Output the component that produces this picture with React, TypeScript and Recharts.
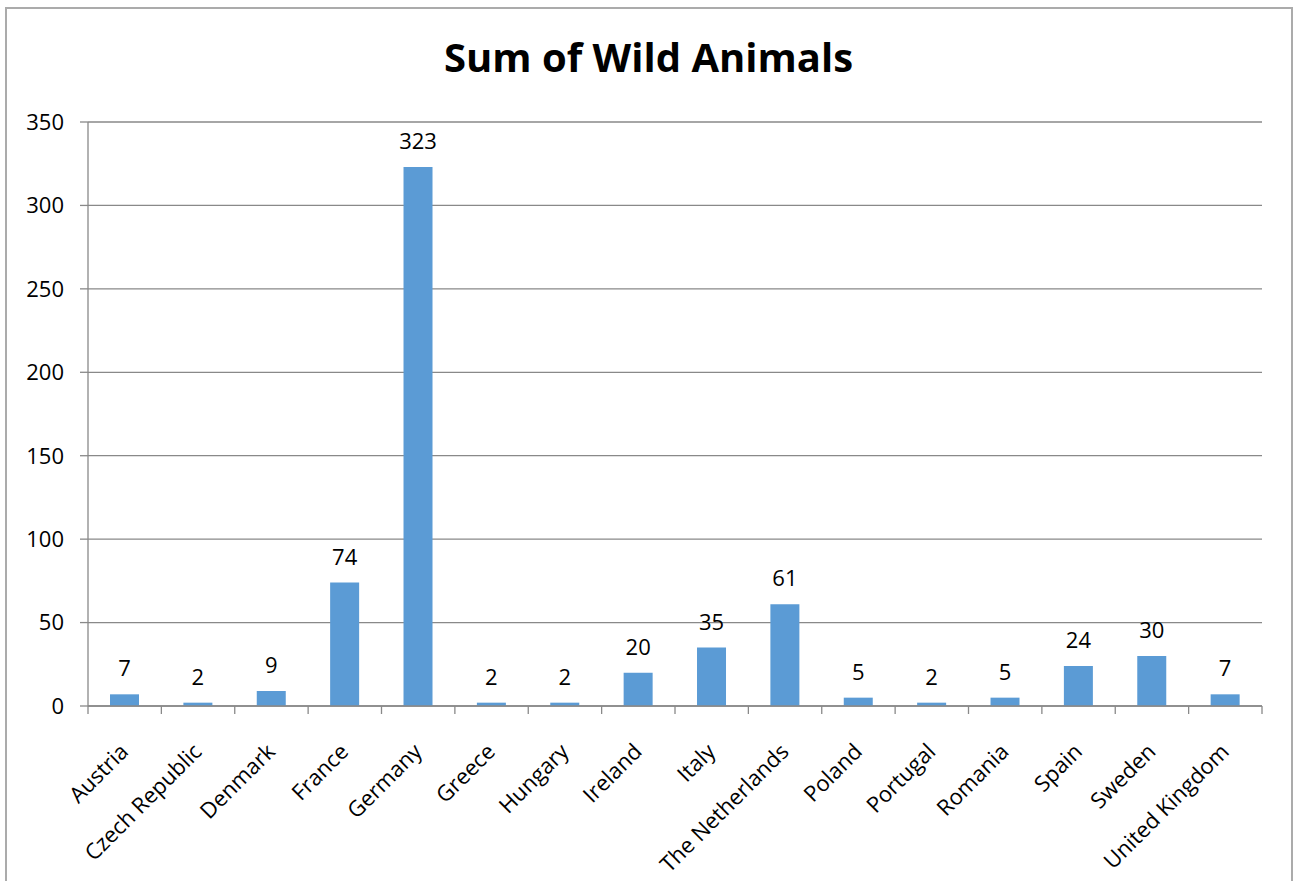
import { BarChart, Bar, XAxis, YAxis, CartesianGrid, LabelList } from 'recharts'

const COUNTRIES = [
  'Austria', 'Czech Republic', 'Denmark', 'France', 'Germany', 'Greece', 'Hungary', 'Ireland',
  'Italy', 'The Netherlands', 'Poland', 'Portugal', 'Romania', 'Spain', 'Sweden', 'United Kingdom',
]
const WILD_ANIMALS = [7, 2, 9, 74, 323, 2, 2, 20, 35, 61, 5, 2, 5, 24, 30, 7]
const Y_TICKS = [0, 50, 100, 150, 200, 250, 300, 350]
const BOUNDARY_TICKS = Array.from({ length: COUNTRIES.length + 1 }, (_, i) => i)

const FONT = '"Open Sans", sans-serif'
const AXIS_GREY = '#898989'

const data = COUNTRIES.map((country, i) => ({ country, value: WILD_ANIMALS[i], idx: i + 0.5 }))

const CountryTick = ({ x, y, payload }: any) => (
  <text
    x={0}
    y={0}
    transform={`translate(${x + 5},${y + 38}) rotate(-45)`}
    textAnchor="end"
    fontSize={22}
    fontFamily={FONT}
    fill="#000"
  >
    {payload.value}
  </text>
)

const NoLabel = () => <g />

export default function App() {
  return (
    <div style={{ position: 'absolute', left: 0, top: 0, width: 1297, height: 881, overflow: 'hidden', background: '#fff' }}>
      <div
        style={{
          position: 'absolute',
          left: 5,
          top: 7,
          width: 1284,
          height: 920,
          border: '2px solid #ababab',
        }}
      />
      <div
        style={{
          position: 'absolute',
          left: 0,
          width: 1297,
          top: 33,
          textAlign: 'center',
          fontFamily: FONT,
          fontWeight: 700,
          fontSize: 40,
          color: '#000',
          lineHeight: '48px',
        }}
      >
        Sum of Wild Animals
      </div>
      <div style={{ position: 'absolute', left: 0, top: 0 }}>
        <BarChart
          width={1297}
          height={881}
          data={data}
          margin={{ top: 122, right: 35, bottom: 0, left: 10 }}
          barCategoryGap="30%"
        >
          <CartesianGrid vertical={false} xAxisId="labels" stroke={AXIS_GREY} strokeWidth={1.3} />
          <XAxis
            type="number"
            dataKey="idx"
            domain={[0, COUNTRIES.length]}
            ticks={BOUNDARY_TICKS}
            interval={0}
            tick={<NoLabel />}
            tickSize={8}
            tickLine={{ stroke: AXIS_GREY, strokeWidth: 1.3 }}
            axisLine={{ stroke: AXIS_GREY, strokeWidth: 1.3 }}
            height={1}
          />
          <XAxis
            xAxisId="labels"
            dataKey="country"
            interval={0}
            tick={<CountryTick />}
            tickLine={false}
            axisLine={false}
            height={174}
          />
          <YAxis
            width={78}
            domain={[0, 350]}
            ticks={Y_TICKS}
            interval={0}
            tickSize={8}
            tickMargin={16}
            tick={{ fontSize: 22, fontFamily: FONT, fill: '#000' }}
            tickLine={{ stroke: AXIS_GREY, strokeWidth: 1.3 }}
            axisLine={{ stroke: AXIS_GREY, strokeWidth: 1.3 }}
          />
          <Bar dataKey="value" xAxisId="labels" fill="#5b9bd5" isAnimationActive={false}>
            <LabelList dataKey="value" position="top" offset={18} fontSize={22} fontFamily={FONT} fill="#000" />
          </Bar>
        </BarChart>
      </div>
    </div>
  )
}
